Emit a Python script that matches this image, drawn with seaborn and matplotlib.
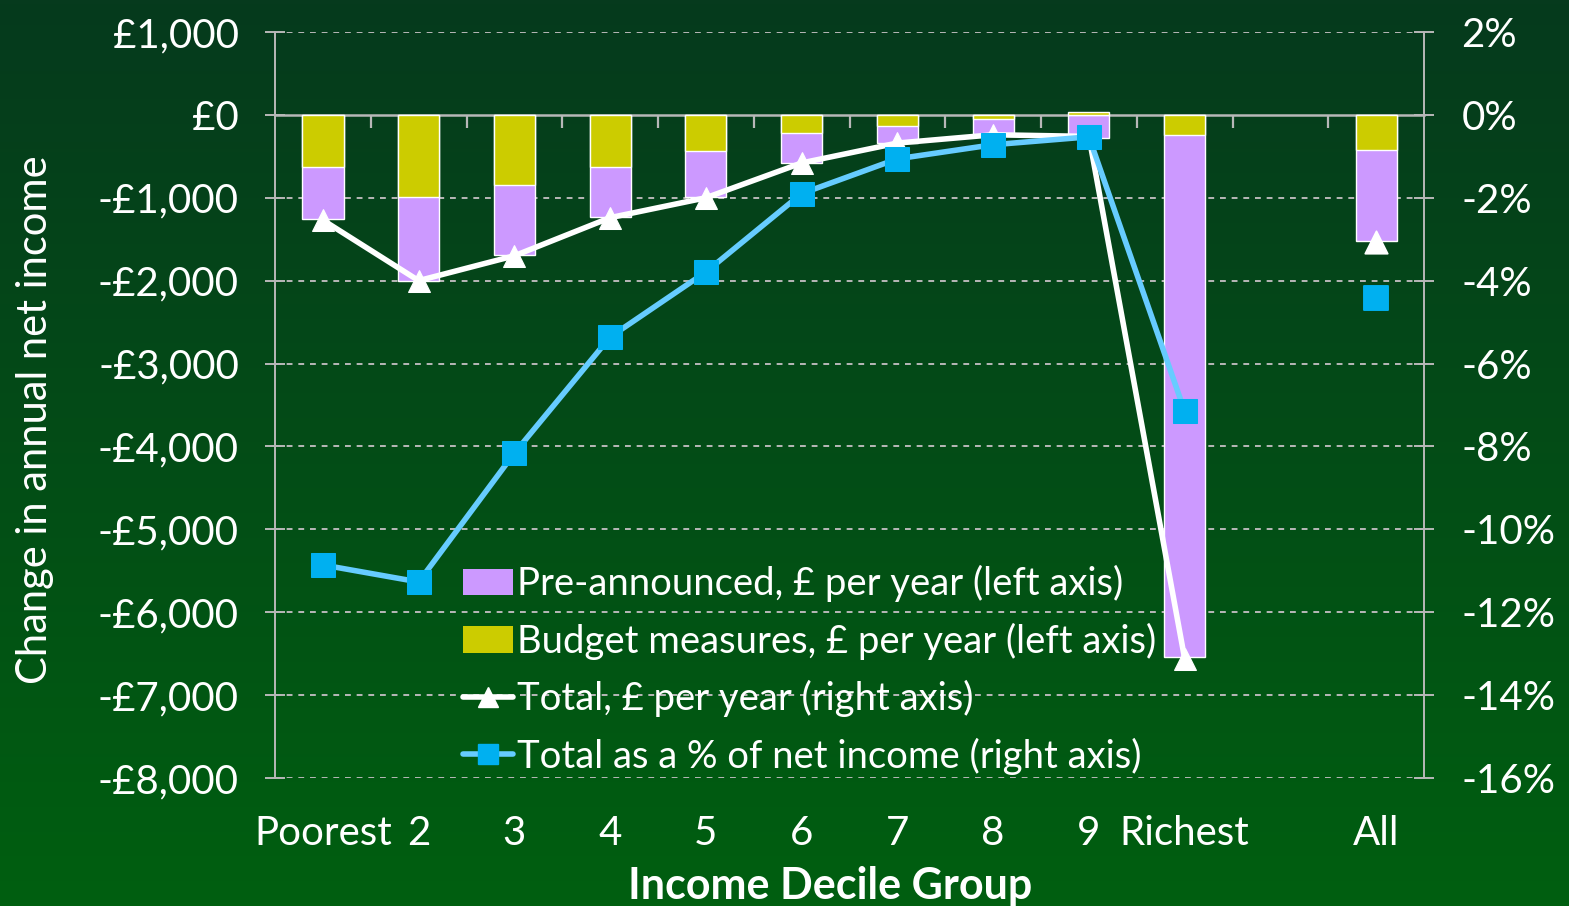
import numpy as np
import pandas as pd
import matplotlib
matplotlib.use("Agg")
import matplotlib.pyplot as plt
from matplotlib.patches import Patch
from matplotlib.lines import Line2D
import seaborn as sns

# Distributional impact by income decile
groups = ["Poorest", "2", "3", "4", "5", "6", "7", "8", "9", "Richest", "All"]
positions = [0, 1, 2, 3, 4, 5, 6, 7, 8, 9, 11]   # gap before "All"
budget = [-630, -990, -850, -625, -435, -220, -140, -50, 30, -240, -420]
pre_announced = [-625, -1010, -845, -610, -560, -360, -200, -190, -280, -6305, -1105]
total_gbp = [-1270, -2000, -1700, -1240, -1000, -580, -340, -240, -260, -6560, -1530]
total_pct = [-10.86, -11.27, -8.16, -5.36, -3.79, -1.90, -1.06, -0.72, -0.53, -7.15, -4.42]

PURPLE = "#CC99FF"
YELLOW = "#CCCC00"
BLUE = "#00B0F0"
BLUE_LINE = "#66CCFF"
GRID = "#b8b8b8"
FS = 29

sns.set_style("white")
plt.rcParams["font.family"] = ["Lato", "DejaVu Sans"]
plt.rcParams["text.color"] = "white"

df = pd.DataFrame({"group": groups, "pos": positions, "budget": budget,
                   "pre": pre_announced, "total": total_gbp, "pct": total_pct})
# negatives stack below zero: purple sits under the negative part of the budget bar
df["neg_stack"] = df["pre"] + df["budget"].clip(upper=0)

fig = plt.figure(figsize=(15.69, 9.06), dpi=100)

# green gradient background
bg = fig.add_axes([0, 0, 1, 1], zorder=-10)
grad = np.linspace(0, 1, 256).reshape(-1, 1)
cmap = matplotlib.colors.LinearSegmentedColormap.from_list("bg", ["#063a1d", "#005f10"])
bg.imshow(grad, aspect="auto", cmap=cmap, extent=[0, 1, 0, 1])
bg.axis("off")

ax = fig.add_axes([0.1753, 0.1413, 0.7323, 0.8234])
ax.patch.set_alpha(0)

sns.barplot(data=df, x="pos", y="neg_stack", native_scale=True, color=PURPLE,
            width=0.43, saturation=1, errorbar=None, ax=ax, zorder=2)
sns.barplot(data=df, x="pos", y="budget", native_scale=True, color=YELLOW,
            width=0.43, saturation=1, errorbar=None, ax=ax, zorder=2)

deciles = df[df["group"] != "All"]
allrow = df[df["group"] == "All"]

sns.lineplot(data=deciles, x="pos", y="total", color="white", lw=4, marker="^",
             markersize=16, markeredgecolor="white", ax=ax, zorder=3)
sns.scatterplot(data=allrow, x="pos", y="total", color="white", marker="^", s=260,
                edgecolor="white", ax=ax, zorder=3)

ax.set_ylim(-8000, 1000)
ax.set_xlim(-0.5, 11.5)
ax.set_yticks(range(-8000, 1001, 1000))
ax.set_yticklabels([("£{:,}".format(v) if v >= 0 else "-£{:,}".format(-v))
                    for v in range(-8000, 1001, 1000)])
ax.set_xticks(positions)
ax.set_xticklabels(groups)
ax.set_xlabel("")
ax.set_ylabel("Change in annual net income", fontsize=30, color="white")
ax.yaxis.set_label_coords(-0.192, 0.48)

for v in range(-8000, 1001, 1000):
    if v != 0:
        ax.axhline(v, color=GRID, ls=(0, (3, 3)), lw=1.4, zorder=1)

for s in ["top", "bottom"]:
    ax.spines[s].set_visible(False)
for s in ["left", "right"]:
    ax.spines[s].set_color(GRID)
    ax.spines[s].set_linewidth(1.4)

ax.tick_params(axis="y", colors=GRID, labelcolor="white", labelsize=FS,
               length=14, width=1.4, direction="inout", pad=19)
ax.tick_params(axis="x", length=0, labelcolor="white", labelsize=FS, pad=27)

# zero line with category divider ticks hanging below it
zero = ax.secondary_xaxis(8 / 9)
zero.set_xticks(np.arange(0.5, 11, 1))
zero.xaxis.set_ticks_position("top")
zero.tick_params(axis="x", direction="in", length=9, width=1.6, colors=GRID,
                 labelbottom=False, labeltop=False)
for s in zero.spines.values():
    s.set_color(GRID)
    s.set_linewidth(1.8)

ax2 = ax.twinx()
sns.lineplot(data=deciles, x="pos", y="pct", color=BLUE_LINE, lw=4, marker="s",
             markersize=17, markerfacecolor=BLUE, markeredgecolor=BLUE, ax=ax2)
sns.scatterplot(data=allrow, x="pos", y="pct", color=BLUE, marker="s", s=300,
                edgecolor=BLUE, ax=ax2)
ax2.set_ylim(-16, 2)
ax2.set_yticks(range(-16, 3, 2))
ax2.set_yticklabels([f"{v}%" for v in range(-16, 3, 2)])
ax2.set_ylabel("")
for s in ax2.spines.values():
    s.set_visible(False)
ax2.tick_params(axis="y", colors=GRID, labelcolor="white", labelsize=FS,
                length=14, width=1.4, direction="inout", pad=20)

fig.text(0.529, 0.022, "Income Decile Group", ha="center", va="center",
         fontsize=31, fontweight="bold", color="white")

handles = [Patch(facecolor=PURPLE, edgecolor="none"),
           Patch(facecolor=YELLOW, edgecolor="none"),
           Line2D([], [], color="white", lw=4, marker="^", markersize=14),
           Line2D([], [], color=BLUE_LINE, lw=4, marker="s", markersize=14,
                  markerfacecolor=BLUE, markeredgecolor=BLUE)]
labels = ["Pre-announced, £ per year (left axis)",
          "Budget measures, £ per year (left axis)",
          "Total, £ per year (right axis)",
          "Total as a % of net income (right axis)"]
leg = fig.legend(handles, labels, loc="upper left", bbox_to_anchor=(0.2855, 0.393),
                 frameon=False, fontsize=27.5, labelspacing=0.53, handlelength=1.3,
                 handletextpad=0.12, borderaxespad=0)
for t in leg.get_texts():
    t.set_color("white")

fig.savefig("out.png", dpi=100)
